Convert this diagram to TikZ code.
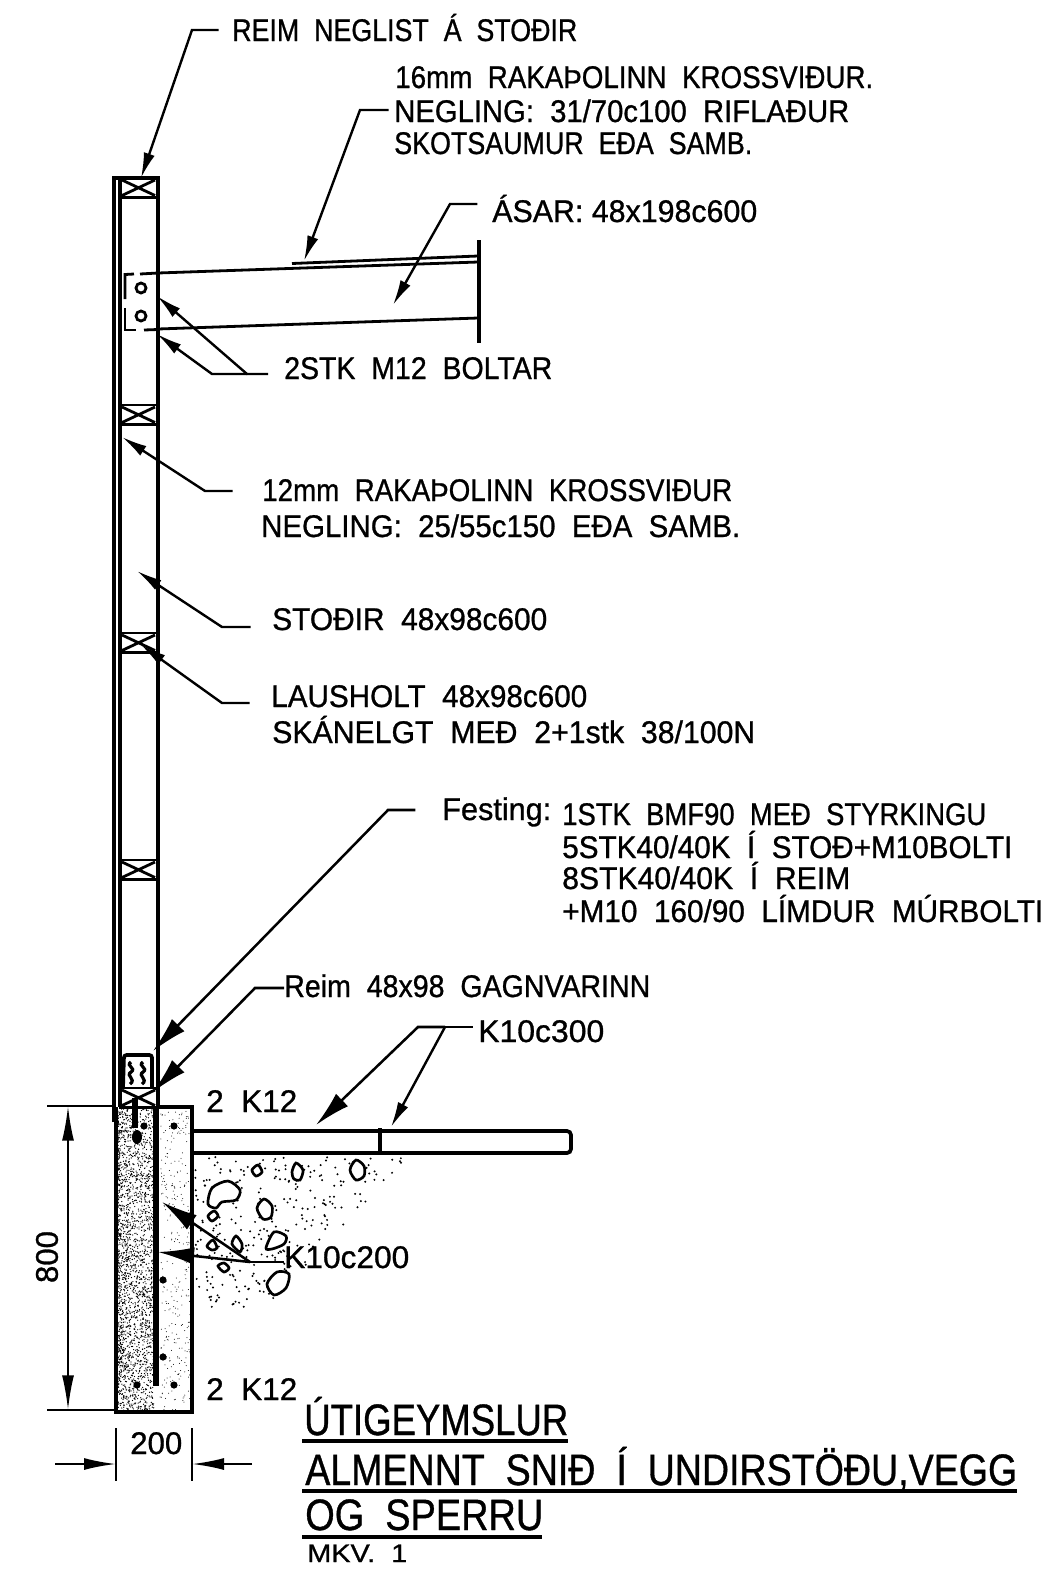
\documentclass[tikz,border=0pt]{standalone}
\usepackage{fontspec}
\usepackage{graphicx}
\setmainfont[FakeBold=0.9]{Liberation Sans}
\usetikzlibrary{arrows.meta,calc}
\newcommand{\cad}[2]{\resizebox{\dimexpr #1pt*3/4\relax}{\height}{#2}}
\newcommand{\stonep}[1]{\draw[stone] plot[smooth cycle] coordinates {#1};}
\tikzset{
  lab/.style={inner sep=0pt,anchor=base west,font=\fontsize{23.5}{26}\selectfont},
  ttl/.style={inner sep=0pt,anchor=base west,font=\fontsize{33}{36}\selectfont},
  small/.style={inner sep=0pt,anchor=base west,font=\fontsize{19}{24}\selectfont},
  wall/.style={line width=2.8pt},
  thin/.style={line width=2.1pt},
  lead/.style={line width=1.8pt,-{Latex[length=19pt,width=8.5pt]}},
  biglead/.style={line width=1.9pt,-{Latex[length=27pt,width=13pt]}},
  plainlead/.style={line width=1.8pt},
  under/.style={line width=3pt},
  stone/.style={line width=2pt,fill=white},
  dimline/.style={line width=1.7pt},
}
\begin{document}
\begin{tikzpicture}[x=0.75pt,y=-0.75pt]
\useasboundingbox[fill=white] (0,0) rectangle (1056,1571);

% ---------- wall ----------
\draw[wall] (114,1122) -- (114,178) -- (158,178) -- (158,1107);
\draw[wall] (120,178) -- (120,1107);
\draw[thin] (114,1122) -- (119,1122);
\foreach \yy in {178,405,633,860,1088}{
  \draw[thin] (120,\yy) rectangle (157,\yy+19.5);
  \draw[thin] (122,\yy+2) -- (155,\yy+17.5) (122,\yy+17.5) -- (155,\yy+2);
}
% ---------- beam ----------
\draw[thin] (158,273) -- (478,262);
\draw[thin] (158,329) -- (478,318);
\draw[thin] (292,263.5) -- (478,256);
\draw[wall] (479,240) -- (479,343);
\draw[thin] (158,273) -- (140,274);
\draw[thin] (134,274) -- (125,274.5) -- (125,299);
\draw[thin] (125,308) -- (125,330) -- (136,330);
\draw[thin] (144,330) -- (158,329.5);
\draw[line width=2.1pt] (141,288) circle[radius=5];
\draw[line width=2.1pt] (141,316) circle[radius=5];

% ---------- foundation ----------
\pgfmathsetseed{4711}
\foreach \i in {1,...,2300}{
  \pgfmathsetmacro{\xx}{118+pow(rnd,1.35)*36}
  \pgfmathsetmacro{\yy}{1109+rnd*302}
  \fill (\xx,\yy) circle[radius=0.65];
}
\foreach \i in {1,...,320}{
  \pgfmathsetmacro{\xx}{160+rnd*31}
  \pgfmathsetmacro{\yy}{1109+rnd*302}
  \fill (\xx,\yy) circle[radius=0.5];
}
\draw[wall] (116,1107) -- (116,1412) -- (192,1412) -- (192,1107) -- (158,1107);
\draw[line width=4.2pt] (156,1107) -- (156,1386);
\foreach \px/\py in {144/1126,174/1126,163/1280,163/1357,137/1385,174/1385}{
  \fill (\px,\py) circle[radius=3.6];
}
\draw[line width=4pt] (135,1098) -- (135,1128);
\fill (137,1137) ellipse[x radius=5,y radius=7];

% ---------- bracket ----------
\draw[wall,rounded corners=2pt] (123,1088) -- (124,1055) -- (152,1055) -- (152,1088);
\draw[line width=2.4pt] (131,1062) .. controls (125,1066) and (137,1068) .. (131,1072) .. controls (125,1076) and (137,1079) .. (130,1084);
\draw[line width=2.4pt] (143,1062) .. controls (137,1066) and (149,1068) .. (143,1072) .. controls (137,1076) and (149,1079) .. (142,1084);

% ---------- slab ----------
\draw[wall,rounded corners=3pt] (192,1131) -- (571,1131) -- (571,1153) -- (192,1153);
\draw[wall] (380,1128) -- (380,1153);

% ---------- soil ----------
\pgfmathsetseed{2024}
\foreach \i in {1,...,300}{
  \pgfmathsetmacro{\yy}{1157+pow(rnd,1.3)*150}
  \pgfmathsetmacro{\lim}{215-(\yy-1155)*0.95}
  \pgfmathsetmacro{\xx}{195+rnd*\lim}
  \fill (\xx,\yy) circle[radius=1.1];
}
\stonep{(208,1204) (212,1188) (228,1181) (240,1190) (236,1200) (222,1202) (216,1208)}
\stonep{(252,1170) (258,1165) (262,1172) (256,1176)}
\stonep{(292,1172) (296,1163) (303,1170) (300,1180) (294,1179)}
\stonep{(350,1170) (356,1160) (364,1166) (364,1176) (356,1180)}
\stonep{(257,1208) (264,1199) (272,1206) (271,1217) (263,1219)}
\stonep{(208,1216) (214,1211) (218,1216) (212,1221)}
\stonep{(266,1248) (274,1232) (286,1236) (284,1244) (272,1249)}
\stonep{(232,1244) (236,1236) (242,1244) (240,1252)}
\stonep{(207,1246) (213,1240) (217,1248) (212,1250)}
\stonep{(218,1266) (224,1263) (229,1268) (224,1272)}
\stonep{(267,1284) (277,1272) (289,1274) (286,1288) (274,1295)}

% ---------- labels ----------
\node[lab] (reimneg) at (232,41) {\cad{345}{REIM~~NEGLIST~~Á~~STOÐIR}};
\node[lab] (ply1) at (395,88) {\cad{478}{16mm~~RAKAÞOLINN~~KROSSVIÐUR.}};
\node[lab] (ply2) at (394,122) {\cad{455}{NEGLING:~~31/70c100~~RIFLAÐUR}};
\node[lab] (ply3) at (394,154) {\cad{358}{SKOTSAUMUR~~EÐA~~SAMB.}};
\node[lab] (asar) at (492,222) {\cad{265}{ÁSAR:~48x198c600}};
\node[lab] (bolt) at (284,379) {\cad{268}{2STK~~M12~~BOLTAR}};
\node[lab] (kross1) at (262,501) {\cad{470}{12mm~~RAKAÞOLINN~~KROSSVIÐUR}};
\node[lab] (kross2) at (261,537) {\cad{479}{NEGLING:~~25/55c150~~EÐA~~SAMB.}};
\node[lab] (stod) at (272,630) {\cad{275}{STOÐIR~~48x98c600}};
\node[lab] (laus1) at (271,707) {\cad{316}{LAUSHOLT~~48x98c600}};
\node[lab] (laus2) at (272,743) {\cad{483}{SKÁNELGT~~MEÐ~~2+1stk~~38/100N}};
\node[lab] (fest) at (442,820) {\cad{109}{Festing:}};
\node[lab] (fest1) at (562,825) {\cad{424}{1STK~~BMF90~~MEÐ~~STYRKINGU}};
\node[lab] (fest2) at (562,858) {\cad{450}{5STK40/40K~~Í~~STOÐ+M10BOLTI}};
\node[lab] (fest3) at (562,889) {\cad{288}{8STK40/40K~~Í~~REIM}};
\node[lab] (fest4) at (562,922) {\cad{481}{+M10~~160/90~~LÍMDUR~~MÚRBOLTI}};
\node[lab] (reim) at (284,997) {\cad{366}{Reim~~48x98~~GAGNVARINN}};
\node[lab] (k300) at (478,1042) {\cad{126}{K10c300}};
\node[lab] (k12a) at (206,1112) {\cad{91}{2~~K12}};
\node[lab] (k200) at (284,1268) {\cad{125}{K10c200}};
\node[lab] (k12b) at (206,1400) {\cad{91}{2~~K12}};
\node[ttl] (t1) at (304,1435) {\cad{264}{ÚTIGEYMSLUR}};
\node[ttl] (t2) at (305,1485) {\cad{712}{ALMENNT~~SNIÐ~~Í~~UNDIRSTÖÐU,VEGG}};
\node[ttl] (t3) at (305,1530) {\cad{238}{OG~~SPERRU}};
\node[small] (mkv) at (307,1562) {\cad{100}{MKV.~~1}};
\node[lab,anchor=center,rotate=90] (d800) at (47,1257) {\cad{52}{800}};
\node[lab] (d200) at (130,1454) {\cad{52}{200}};

% ---------- title underlines ----------
\coordinate (u1a) at (302,1441); \coordinate (u1b) at (568,1441);
\coordinate (u2a) at (302,1491); \coordinate (u2b) at (1017,1491);
\coordinate (u3a) at (302,1537); \coordinate (u3b) at (542,1537);
\draw[under] (u1a) -- (u1b);
\draw[under] (u2a) -- (u2b);
\draw[under] (u3a) -- (u3b);

% ---------- leader points and targets ----------
\coordinate (e1) at (192,30);   \coordinate (p1) at (141,178);
\coordinate (e2) at (360,110);  \coordinate (p2) at (304,261);
\coordinate (e3) at (450,204);  \coordinate (p3) at (393,305);
\coordinate (e4) at (247,374);  \coordinate (e4b) at (212,374); \coordinate (p4) at (157,296); \coordinate (p4b) at (157,334);
\coordinate (e5) at (205,491);  \coordinate (p5) at (122,437);
\coordinate (e6) at (222,627);  \coordinate (p6) at (137,571);
\coordinate (e7) at (222,703);  \coordinate (p7) at (141,645);
\coordinate (e8) at (388,810);  \coordinate (p8) at (153,1051);
\coordinate (e9) at (255,988);  \coordinate (p9) at (153,1092);
\coordinate (e10) at (445,1027); \coordinate (e10b) at (418,1027); \coordinate (p10) at (316,1125); \coordinate (p10b) at (391,1127);
\coordinate (e11) at (250,1262); \coordinate (p11) at (162,1202); \coordinate (p11b) at (158,1252);

% ---------- leaders ----------
\draw[lead,shorten <=10pt] (reimneg.west |- e1) -- (e1) -- (p1);
\draw[lead,shorten <=4pt] (ply2.west |- e2) -- (e2) -- (p2);
\draw[lead,shorten <=11pt] (asar.west |- e3) -- (e3) -- (p3);
\draw[lead,shorten <=12pt] (bolt.west |- e4) -- (e4) -- (p4);
\draw[lead] (e4) -- (e4b) -- (p4b);
\draw[lead,shorten <=22pt] (kross1.west |- e5) -- (e5) -- (p5);
\draw[lead,shorten <=16pt] (stod.west |- e6) -- (e6) -- (p6);
\draw[lead,shorten <=16pt] (laus1.west |- e7) -- (e7) -- (p7);
\draw[biglead,shorten <=20pt] (fest.west |- e8) -- (e8) -- (p8);
\draw[biglead] (reim.west |- e9) -- (e9) -- (p9);
\draw[plainlead,shorten <=4pt] (k300.west |- e10) -- (e10);
\draw[lead] (e10) -- (p10b);
\draw[biglead] (e10) -- (e10b) -- (p10);
\draw[plainlead] (k200.west |- e11) -- (e11);
\draw[biglead] (e11) -- (p11);
\draw[biglead] (e11) -- (p11b);

% ---------- dimensions ----------
\coordinate (dt) at (47,1106); \coordinate (dtr) at (116,1106);
\coordinate (db) at (47,1410); \coordinate (dbr) at (116,1410);
\coordinate (dv1) at (68,1106); \coordinate (dv2) at (68,1410);
\draw[dimline] (dt) -- (dtr);
\draw[dimline] (db) -- (dbr);
\draw[dimline,{Latex[length=26pt,width=9pt]}-{Latex[length=26pt,width=9pt]}] (dv1) -- (dv2);
\coordinate (hl1) at (116,1428); \coordinate (hl2) at (116,1481);
\coordinate (hr1) at (192,1428); \coordinate (hr2) at (192,1481);
\draw[dimline] (hl1) -- (hl2);
\draw[dimline] (hr1) -- (hr2);
\coordinate (al) at (55,1464); \coordinate (ar) at (252,1464);
\draw[dimline,-{Latex[length=24pt,width=9pt]}] (al) -- (hl1 |- al);
\draw[dimline,-{Latex[length=24pt,width=9pt]}] (ar) -- (hr1 |- ar);
\end{tikzpicture}
\end{document}
